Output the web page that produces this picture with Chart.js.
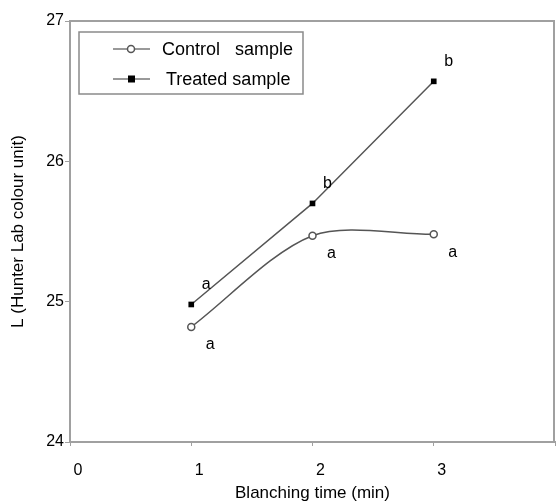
<!DOCTYPE html>
<html>
<head>
<meta charset="utf-8">
<script src="https://cdn.jsdelivr.net/npm/chart.js@4"></script>
<style>
  body { margin: 0; background: #fff; }
  #wrap { width: 556px; height: 504px; }
</style>
</head>
<body>
<div id="wrap"><canvas id="myChart" width="556" height="504"></canvas></div>
<script>
const times = [1, 2, 3];
const controlL = [24.82, 25.47, 25.48];
const treatedL = [24.98, 25.70, 26.57];
const controlLetters = ['a', 'a', 'a'];
const treatedLetters = ['a', 'b', 'b'];
const seriesNames = ['Control   sample', 'Treated sample'];

const font = "'Liberation Sans', Arial, sans-serif";

// frame, significance letters and in-plot legend
const extras = {
  id: 'extras',
  beforeDatasetsDraw(chart) {
    const { ctx, chartArea: a } = chart;
    ctx.save();
    ctx.strokeStyle = '#a0a0a0';
    ctx.lineWidth = 2;
    ctx.beginPath();
    ctx.moveTo(a.left, a.top);
    ctx.lineTo(a.right - 1, a.top);
    ctx.lineTo(a.right - 1, a.bottom);
    ctx.stroke();
    ctx.restore();
  },
  afterDatasetsDraw(chart) {
    const { ctx, chartArea: a } = chart;
    const xs = chart.scales.x, ys = chart.scales.y;
    ctx.save();
    ctx.fillStyle = '#000';
    ctx.font = '16px ' + font;
    ctx.textAlign = 'center';
    ctx.textBaseline = 'middle';
    times.forEach((t, i) => {
      ctx.fillText(controlLetters[i], xs.getPixelForValue(t) + 19, ys.getPixelForValue(controlL[i]) + 18);
      ctx.fillText(treatedLetters[i], xs.getPixelForValue(t) + 15, ys.getPixelForValue(treatedL[i]) - 20);
    });

    // legend box
    const bx = a.left + 9, by = a.top + 11, bw = 224, bh = 62;
    ctx.strokeStyle = '#8a8a8a';
    ctx.lineWidth = 1.5;
    ctx.strokeRect(bx, by, bw, bh);
    ctx.textAlign = 'left';
    ctx.font = '18px ' + font;
    chart.data.datasets.forEach((ds, i) => {
      const ry = by + 17 + i * 30;
      ctx.strokeStyle = '#777';
      ctx.lineWidth = 1.5;
      ctx.beginPath();
      ctx.moveTo(bx + 34, ry);
      ctx.lineTo(bx + 71, ry);
      ctx.stroke();
      if (i === 0) {
        ctx.fillStyle = '#fff';
        ctx.beginPath();
        ctx.arc(bx + 52, ry, 3.5, 0, Math.PI * 2);
        ctx.fill();
        ctx.strokeStyle = '#555';
        ctx.stroke();
      } else {
        ctx.fillStyle = '#000';
        ctx.fillRect(bx + 49, ry - 3.5, 7, 7);
      }
      ctx.fillStyle = '#000';
      ctx.fillText(ds.label, bx + 83 + i * 4, ry + 1);
    });
    ctx.restore();
  }
};

// the "4" label is clipped in the original, so it must not shrink the plot
function noSidePadding(s) {
  s.height = 62;
  s.paddingLeft = 0;
  s.paddingRight = 0;
}

const config = {
  type: 'line',
  data: {
    datasets: [{
      label: seriesNames[0],
      data: times.map((t, i) => ({ x: t, y: controlL[i] })),
      borderColor: '#555',
      borderWidth: 1.5,
      tension: 0.3,
      pointStyle: 'circle',
      pointRadius: 3.5,
      pointBackgroundColor: '#fff',
      pointBorderColor: '#555',
      pointBorderWidth: 1.5
    }, {
      label: seriesNames[1],
      data: times.map((t, i) => ({ x: t, y: treatedL[i] })),
      borderColor: '#555',
      borderWidth: 1.5,
      tension: 0,
      pointStyle: 'rect',
      pointRadius: 4,
      pointBackgroundColor: '#000',
      pointBorderColor: '#000',
      pointBorderWidth: 0
    }]
  },
  options: {
    responsive: false,
    animation: false,
    layout: { autoPadding: false, padding: { left: 0, right: 1, top: 21, bottom: 0 } },
    plugins: { legend: { display: false }, tooltip: { enabled: false } },
    scales: {
      x: {
        type: 'linear',
        min: 0, max: 4,
        afterFit: noSidePadding,
        ticks: { stepSize: 1, color: '#000', font: { family: font, size: 16 }, padding: 15, labelOffset: 8 },
        grid: { drawOnChartArea: false, drawTicks: true, tickLength: 4, color: '#a0a0a0' },
        border: { color: '#a0a0a0', width: 2 },
        title: { display: true, text: 'Blanching time (min)', color: '#000', font: { family: font, size: 17 }, padding: { top: 3, bottom: 0 } }
      },
      y: {
        min: 24, max: 27,
        afterFit: s => { s.width = 70; },
        ticks: { stepSize: 1, color: '#000', font: { family: font, size: 16 }, padding: 1 },
        grid: { drawOnChartArea: false, drawTicks: true, tickLength: 5, color: '#a0a0a0' },
        border: { color: '#a0a0a0', width: 2 },
        title: { display: true, text: 'L (Hunter Lab colour unit)', color: '#000', font: { family: font, size: 17 }, padding: { top: 8, bottom: 0 } }
      }
    }
  },
  plugins: [extras]
};

const myChart = new Chart(document.getElementById('myChart'), config);
</script>
</body>
</html>
